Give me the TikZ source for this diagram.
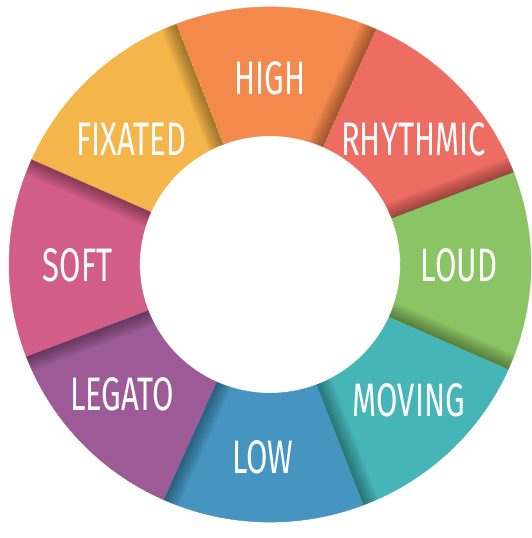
\documentclass[tikz,border=0pt]{standalone}
\usepackage{fontspec}
\setmainfont{Fira Sans}[FakeStretch=0.66]

\newlength{\du}
\setlength{\du}{1pt}

\definecolor{high}{RGB}{243,137,76}
\definecolor{rhythmic}{RGB}{238,109,99}
\definecolor{loud}{RGB}{139,196,100}
\definecolor{moving}{RGB}{70,181,184}
\definecolor{low}{RGB}{69,149,192}
\definecolor{legato}{RGB}{156,91,150}
\definecolor{soft}{RGB}{210,93,135}
\definecolor{fixated}{RGB}{244,181,74}

\tikzset{
  seglabel/.style={text=white, inner sep=0pt, font=\fontsize{47}{47}\selectfont},
  segfill/.style={fill=#1, draw=#1, line width=0.4pt},
  segshadow/.style={fill=black, opacity=0.032},
}

\begin{document}
\begin{tikzpicture}
\pgftransformxscale{1.000000}
\pgftransformyscale{-1.000000}
\useasboundingbox (0\du,0\du) rectangle (531\du,538\du);

% the ring, angles run clockwise because of the flip
\begin{scope}[shift={(270\du,264.5\du)}, xscale=1.013]
\foreach \name/\e [evaluate=\e as \s using \e-45] in
  {rhythmic/-21, high/-66, fixated/-111, soft/-156,
   legato/-201, low/-246, moving/-291, loud/-336}
{
\fill[segfill=\name] (\s:128.7\du) -- (\s:257.6\du)
  arc[start angle=\s, end angle=\e, radius=257.6\du] -- (\e:128.7\du)
  arc[start angle=\e, end angle=\s, radius=128.7\du] -- cycle;
}
% shadow along the clockwise edge of every piece
\foreach \name/\e [evaluate=\e as \s using \e-45] in
  {rhythmic/-21, high/-66, fixated/-111, soft/-156,
   legato/-201, low/-246, moving/-291, loud/-336}
{
\begin{scope}
\clip (\s:128.7\du) -- (\s:257.6\du)
  arc[start angle=\s, end angle=\e, radius=257.6\du] -- (\e:128.7\du)
  arc[start angle=\e, end angle=\s, radius=128.7\du] -- cycle;
\foreach \k in {1,...,12}
  \fill[segshadow, rotate=\e] (100\du,0\du) rectangle (270\du,-1.3*\k*\du);
\end{scope}
}
\end{scope}

\node[seglabel] (highlbl) at (270\du,78\du) {HIGH};
\node[seglabel] (rhythmiclbl) at (413.5\du,139\du) {RHYTHMIC};
\node[seglabel] (loudlbl) at (459\du,265\du) {LOUD};
\node[seglabel] (movinglbl) at (409\du,400\du) {MOVING};
\node[seglabel] (lowlbl) at (263\du,457\du) {LOW};
\node[seglabel] (legatolbl) at (122\du,394\du) {LEGATO};
\node[seglabel] (softlbl) at (77.5\du,265\du) {SOFT};
\node[seglabel] (fixatedlbl) at (131\du,139\du) {FIXATED};
\end{tikzpicture}
\end{document}
